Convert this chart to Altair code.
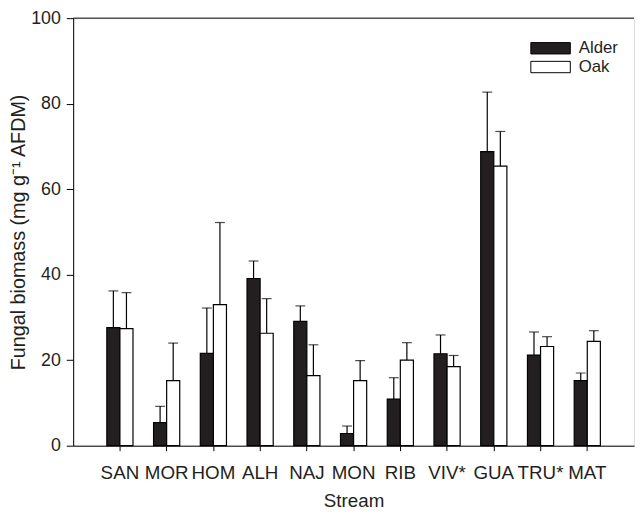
import altair as alt
import pandas as pd

streams = ["SAN", "MOR", "HOM", "ALH", "NAJ", "MON", "RIB", "VIV*", "GUA", "TRU*", "MAT"]
litter = ["Alder", "Oak"]
alder_mean = [27.6, 5.4, 21.6, 39.1, 29.1, 2.85, 10.9, 21.5, 68.8, 21.2, 15.2]
alder_upper = [36.2, 9.2, 32.2, 43.2, 32.7, 4.6, 15.9, 25.9, 82.7, 26.6, 17.0]
oak_mean = [27.4, 15.2, 33.0, 26.3, 16.4, 15.2, 20.0, 18.5, 65.4, 23.2, 24.4]
oak_upper = [35.8, 24.0, 52.2, 34.4, 23.6, 19.9, 24.1, 21.1, 73.5, 25.5, 26.9]
y_ticks = [0, 20, 40, 60, 80, 100]

rows = []
for i, s in enumerate(streams):
    rows.append({"stream": s, "litter": "Alder", "mean": alder_mean[i], "upper": alder_upper[i]})
    rows.append({"stream": s, "litter": "Oak", "mean": oak_mean[i], "upper": oak_upper[i]})
df = pd.DataFrame(rows)

FONT = "Liberation Sans"
INK = "#231f20"

x_enc = alt.X(
    "stream:N",
    sort=streams,
    scale=alt.Scale(paddingInner=0.44, paddingOuter=0.72),
    axis=alt.Axis(
        title="Stream", labelAngle=0, tickSize=5, labelPadding=13,
        labelFontSize=19, titleFontSize=19, titlePadding=10,
        titleFontWeight="normal", domainColor="black", tickColor="black",
        labelColor=INK, titleColor=INK, labelFont=FONT, titleFont=FONT,
    ),
)
xo_enc = alt.XOffset("litter:N", sort=litter, scale=alt.Scale(paddingInner=0, paddingOuter=0))
y_scale = alt.Scale(domain=[0, 100], nice=False)
y_axis = alt.Axis(
    title="Fungal biomass (mg g⁻¹ AFDM)", values=y_ticks, tickSize=7, labelPadding=6,
    labelFontSize=18, titleFontSize=20, titlePadding=2, titleFontWeight="normal",
    domainColor="black", tickColor="black", labelColor=INK, titleColor=INK,
    labelFont=FONT, titleFont=FONT, grid=False,
)

base = alt.Chart(df)

bars = base.mark_bar(stroke="black", strokeWidth=1.2).encode(
    x=x_enc,
    xOffset=xo_enc,
    y=alt.Y("mean:Q", scale=y_scale, axis=y_axis),
    fill=alt.Fill(
        "litter:N",
        sort=litter,
        scale=alt.Scale(domain=litter, range=[INK, "#ffffff"]),
        legend=alt.Legend(
            title=None, orient="none", legendX=473, legendY=20,
            symbolType="M-2,-0.575L2,-0.575L2,0.575L-2,0.575Z", symbolSize=400,
            symbolStrokeColor="black", symbolStrokeWidth=1,
            labelFontSize=17, labelFont=FONT, labelColor=INK, labelOffset=18,
            rowPadding=0,
        ),
    ),
)

err = base.mark_rule(color="black", strokeWidth=1.2).encode(
    x=x_enc, xOffset=xo_enc, y=alt.Y("mean:Q", scale=y_scale), y2="upper:Q"
)
caps = base.mark_tick(color="black", thickness=1.2, size=10, orient="horizontal").encode(
    x=x_enc, xOffset=xo_enc, y=alt.Y("upper:Q", scale=y_scale)
)
top_line = alt.Chart(pd.DataFrame({"v": [100]})).mark_rule(color="black", strokeWidth=1).encode(
    y=alt.Y("v:Q", scale=y_scale)
)

chart = (
    alt.layer(err, caps, bars, top_line)
    .properties(
        width=568, height=433, autosize="none",
        padding={"left": 66, "top": 7, "right": 1, "bottom": 75},
    )
    .configure_view(stroke=None)
    .configure(background="white")
)

chart.save("out.html", embed_options={"renderer": "svg", "actions": False})
